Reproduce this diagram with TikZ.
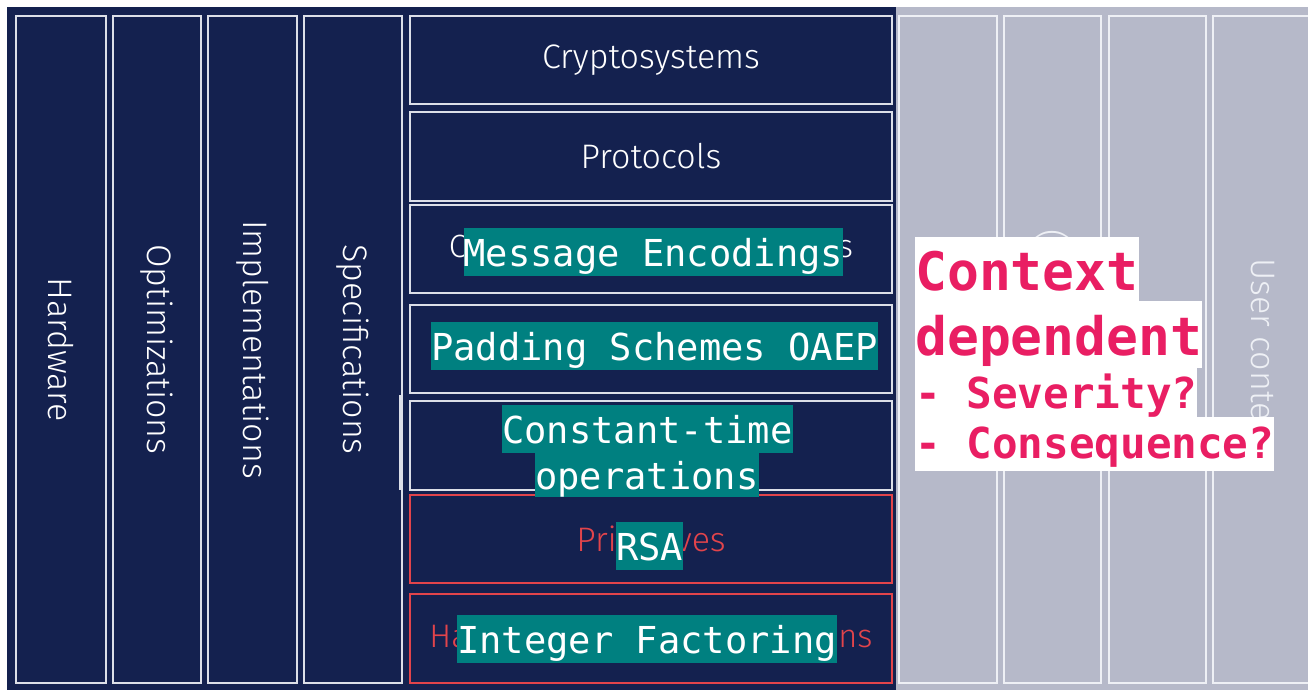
\documentclass[tikz,border=0pt]{standalone}
\usepackage{fontspec}
\usetikzlibrary{fit}
\newfontfamily\lightsans{Fira Sans Light}
\newfontfamily\codefont{DejaVu Sans Mono}
\definecolor{navybg}{HTML}{14214F}
\definecolor{greybg}{HTML}{B6B9C9}
\definecolor{linew}{HTML}{DCDFE8}
\definecolor{linegrey}{HTML}{EEF0F5}
\definecolor{alertred}{HTML}{E2444B}
\definecolor{tealhl}{HTML}{008080}
\definecolor{pinknote}{HTML}{E91E63}
\tikzset{
  layerbox/.style={draw=linew, line width=1.5pt, inner sep=0pt},
  basebox/.style={draw=alertred, line width=1.5pt, inner sep=0pt},
  ghostbox/.style={draw=linegrey, line width=1.5pt, inner sep=0pt},
  lbl/.style={font={\lightsans\fontsize{34pt}{40pt}\selectfont}, text=white, inner sep=0pt},
  vlbl/.style={lbl, rotate=-90},
  redlbl/.style={lbl, text=alertred},
  ghostlbl/.style={lbl, text=linegrey, rotate=-90, anchor=west},
  hl/.style={fill=tealhl, text=white, inner sep=0pt, anchor=base west,
    font={\codefont\fontsize{37.1pt}{44pt}\selectfont}, text height=38pt, text depth=10pt},
  notebig/.style={fill=white, text=pinknote, inner sep=0pt, anchor=base west,
    font={\codefont\bfseries\fontsize{53pt}{60pt}\selectfont}},
  notesmall/.style={fill=white, text=pinknote, inner sep=0pt, anchor=base west,
    font={\codefont\bfseries\fontsize{42.6pt}{50pt}\selectfont}},
}
\begin{document}
\begin{tikzpicture}[x=1pt,y=-1pt]
\useasboundingbox (0,0) rectangle (1308,690);
% backgrounds
\fill[white] (0,0) rectangle (1308,690);
\fill[navybg] (7,7) rectangle (896,690);
\fill[greybg] (896,7) rectangle (1308,690);

% vertical layers
\node[layerbox, fit={(16,16)(106,683)}] (hw) {};
\node[layerbox, fit={(113,16)(201,683)}] (opt) {};
\node[layerbox, fit={(208,16)(297,683)}] (impl) {};
\node[layerbox, fit={(304,16)(402,683)}] (spec) {};
\node[vlbl] at (hw.center) {Hardware};
\node[vlbl] at (opt.center) {Optimizations};
\node[vlbl] at (impl.center) {Implementations};
\node[vlbl] at (spec.center) {Specifications};

% horizontal stack
\node[layerbox, fit={(410,16)(892,104)}] (crypt) {};
\node[layerbox, fit={(410,112)(892,201)}] (proto) {};
\node[layerbox, fit={(410,205)(892,293)}] (constr) {};
\node[layerbox, fit={(410,305)(892,393)}] (pad) {};
\node[layerbox, fit={(410,401)(892,490)}] (ct) {};
\node[basebox, fit={(410,495)(892,583)}] (prim) {};
\node[basebox, fit={(410,594)(892,683)}] (hard) {};
\draw[linew, line width=1.5pt] (400,395) -- (400,490);
\node[lbl] at (crypt.center) {Cryptosystems};
\node[lbl] at (proto.center) {Protocols};
\node[lbl, font={\lightsans\fontsize{32.2pt}{40pt}\selectfont}] at (constr.center) {Cryptographic Constructions};
\node[redlbl] at (prim.center) {Primitives};
\node[redlbl, font={\lightsans\fontsize{32.6pt}{40pt}\selectfont}] at (hard.center) {Hard Problems \& Assumptions};

% faded context columns
\node[ghostbox, fit={(899,16)(997,683)}] (g1) {};
\node[ghostbox, fit={(1004,16)(1101,683)}] (g2) {};
\node[ghostbox, fit={(1109,16)(1206,683)}] (g3) {};
\node[ghostbox, fit={(1213,16)(1313,683)}] (g4) {};
\node[ghostlbl] at (1052.5,229) {(Side channels)};
\node[ghostlbl] at (1263,258) {User context};

% highlighted examples
\node[hl] (hlmsg) at (463.3,266) {Message Encodings};
\node[hl] (hlpad) at (431,360.3) {Padding Schemes OAEP};
\node[hl] (hlcta) at (502,443) {Constant-time};
\node[hl, text depth=8.3pt] (hlctb) at (535,489) {operations};
\node[hl] (hlrsa) at (616,560.3) {RSA};
\node[hl] (hlint) at (457,653) {Integer Factoring};

% note
\node[notebig, text height=54pt, text depth=10.3pt] (nctx) at (915,290.7) {Context\ };
\node[notebig, text height=54pt, text depth=13.3pt] (ndep) at (915,355) {dependent};
\node[notesmall, text height=40pt, text depth=8.4pt] (nsev) at (915,408.3) {-\ Severity?};
\node[notesmall, text height=41.6pt, text depth=12.4pt] (ncon) at (915,458.3) {-\ Consequence?};
\end{tikzpicture}
\end{document}
